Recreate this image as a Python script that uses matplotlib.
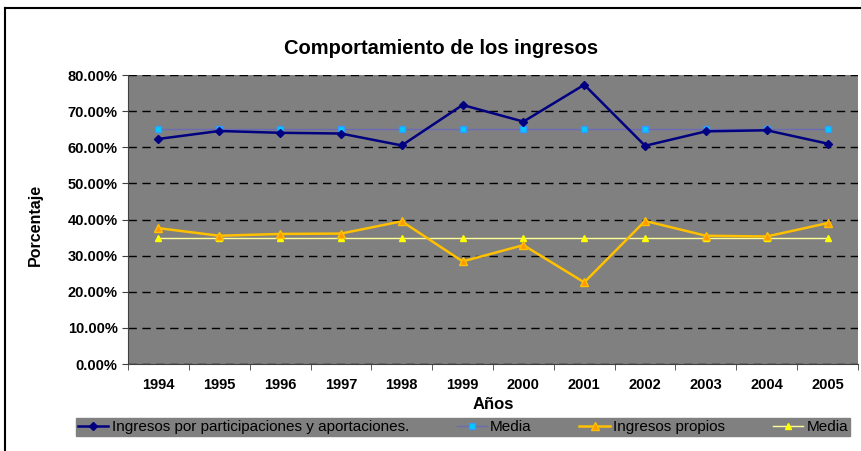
import numpy as np
import matplotlib.pyplot as plt
from matplotlib.lines import Line2D
from matplotlib.ticker import FuncFormatter, MultipleLocator

plt.rcParams['font.family'] = ['Liberation Sans', 'DejaVu Sans']

# Data
years = ['1994', '1995', '1996', '1997', '1998', '1999',
         '2000', '2001', '2002', '2003', '2004', '2005']
participaciones = [62.3, 64.5, 64.0, 63.8, 60.5, 71.7, 67.1, 77.3, 60.4, 64.4, 64.7, 61.0]
media_part = [65.1] * 12
propios = [37.6, 35.5, 36.0, 36.1, 39.5, 28.4, 32.9, 22.6, 39.6, 35.5, 35.3, 39.0]
media_prop = [34.9] * 12

fig = plt.figure(figsize=(8.61, 4.51), dpi=100)
ax = fig.add_axes([128 / 861, 1 - 364 / 451, 730 / 861, 289 / 451])
ax.set_facecolor('#808080')

x = np.arange(len(years))
ax.plot(x, media_part, color='#6B6BB5', lw=1, marker='s', ms=4,
        mfc='#00CCFF', mec='#3399FF', label='Media', zorder=3)
ax.plot(x, participaciones, color='#000080', lw=1.8, marker='D', ms=4,
        mfc='#000080', mec='#000080', label='Ingresos por participaciones y aportaciones.', zorder=4)
ax.plot(x, media_prop, color='#FFFF99', lw=1, marker='^', ms=5,
        mfc='#FFFF00', mec='#FFFF00', label='Media', zorder=3)
ax.plot(x, propios, color='#FFC000', lw=1.8, marker='^', ms=6,
        mfc='#FF9900', mec='#FFC000', label='Ingresos propios', zorder=4)

ax.set_xlim(-0.5, len(years) - 0.5)
ax.set_ylim(0, 80)
ax.yaxis.set_major_locator(MultipleLocator(10))
ax.yaxis.set_major_formatter(FuncFormatter(lambda v, p: f'{v:.2f}%'))
ax.grid(axis='y', color='black', ls=(0, (6, 4)), lw=1)
ax.set_axisbelow(True)

ax.set_xticks(x)
ax.set_xticklabels(years, fontweight='bold', fontsize=10.5)
ax.set_xticks(np.arange(-0.5, len(years)), minor=True)
ax.tick_params(axis='x', which='major', length=0, pad=10)
ax.tick_params(axis='x', which='minor', length=4, direction='out', color='#404040')
ax.tick_params(axis='y', length=4, direction='out', color='#404040', labelsize=10.5)
for t in ax.get_yticklabels():
    t.set_fontweight('bold')

for s in ['top', 'right']:
    ax.spines[s].set_visible(False)
ax.spines['left'].set_color('#404040')
ax.spines['bottom'].set_color('#404040')

ax.set_xlabel('Años', fontweight='bold', fontsize=12)
ax.xaxis.set_label_coords(0.5, -(397 - 364) / 289)
ax.set_ylabel('Porcentaje', fontweight='bold', fontsize=11.5)
ax.yaxis.set_label_coords(-(128 - 43) / 730, 0.48)
fig.text(441 / 861, 1 - 48 / 451, 'Comportamiento de los ingresos',
         ha='center', va='center', fontweight='bold', fontsize=14.5)

# Outer frame
fig.add_artist(Line2D([5 / 861, 5 / 861], [0, 1 - 8 / 451], color='black', lw=1.5,
                      transform=fig.transFigure))
fig.add_artist(Line2D([5 / 861, 1], [1 - 8 / 451, 1 - 8 / 451], color='black', lw=1.5,
                      transform=fig.transFigure))

handles, labels = ax.get_legend_handles_labels()
order = [1, 0, 3, 2]
leg = fig.legend([handles[i] for i in order], [labels[i] for i in order],
                 loc='center', ncol=4, mode='expand',
                 bbox_to_anchor=(68 / 861, 1 - 436 / 451, 790 / 861, 18 / 451),
                 fontsize=11, frameon=True, fancybox=False, facecolor='#808080',
                 edgecolor='#808080', framealpha=1, borderpad=0.15,
                 handlelength=2.0, handletextpad=0.2, columnspacing=1.0)

fig.savefig('out.png', dpi=100)
